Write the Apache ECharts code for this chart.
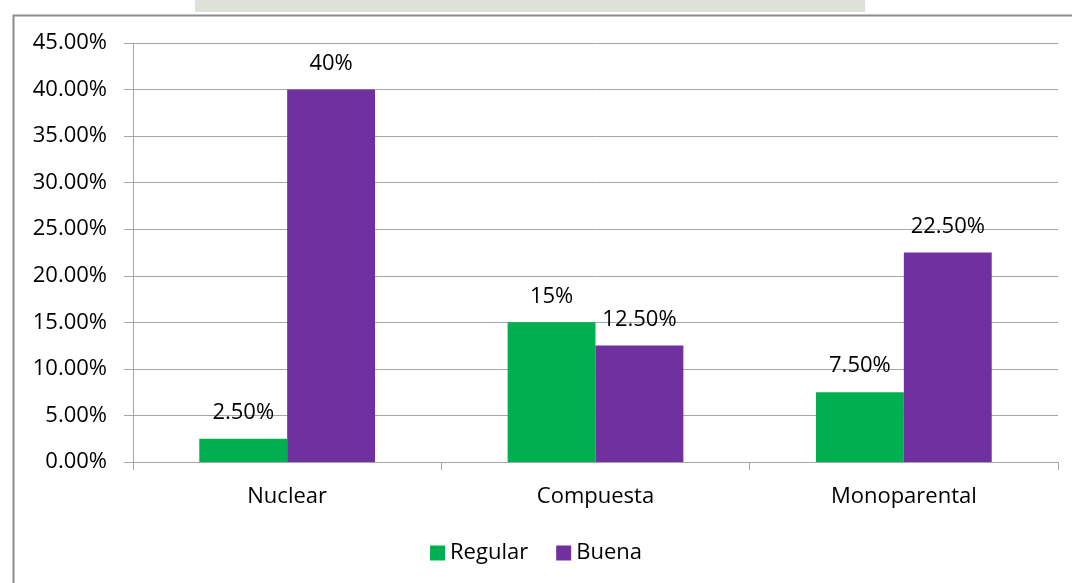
<!DOCTYPE html>
<html>
<head>
<meta charset="utf-8">
<script src="https://cdn.jsdelivr.net/npm/echarts@6/dist/echarts.min.js"></script>
<style>
html,body{margin:0;padding:0;background:#fff;}
#c{width:1072px;height:583px;}
</style>
</head>
<body>
<div id="c"></div>
<script>
const categories = ['Nuclear', 'Compuesta', 'Monoparental'];
const seriesNames = ['Regular', 'Buena'];
const regular = [2.5, 15, 7.5];
const buena = [40, 12.5, 22.5];
const regularLabels = ['2.50%', '15%', '7.50%'];
const buenaLabels = ['40%', '12.50%', '22.50%'];
const colors = ['#00b050', '#7030a0'];

const FONT = '"Open Sans", "Noto Sans", sans-serif';
const FS = 22;

const chart = echarts.init(document.getElementById('c'));

function labelCfg(arr) {
  return {
    show: true,
    position: 'top',
    distance: 15,
    color: '#000',
    fontFamily: FONT,
    fontSize: FS,
    formatter: p => arr[p.dataIndex]
  };
}

chart.setOption({
  animation: false,
  backgroundColor: '#fff',
  graphic: [
    { type: 'rect', left: 195, top: 0, shape: { width: 670, height: 12 }, style: { fill: '#dce1da' }, z: -10 },
    { type: 'rect', left: 11, top: 13, shape: { width: 1100, height: 620 }, style: { fill: 'none', stroke: '#8c8c8c', lineWidth: 2 }, z: -5 }
  ],
  textStyle: { fontFamily: FONT },
  legend: {
    bottom: 14,
    left: 'center',
    icon: 'rect',
    itemWidth: 15,
    itemHeight: 15,
    itemGap: 28,
    textStyle: { color: '#000', fontFamily: FONT, fontSize: FS },
    data: seriesNames
  },
  grid: { left: 133, right: 14, top: 43, bottom: 121, containLabel: false },
  xAxis: {
    type: 'category',
    data: categories,
    axisLine: { show: true, lineStyle: { color: '#a6a6a6', width: 1 } },
    axisTick: { show: true, length: 8, lineStyle: { color: '#a6a6a6' } },
    axisLabel: { color: '#000', fontFamily: FONT, fontSize: FS, margin: 24 },
    splitLine: { show: false }
  },
  yAxis: {
    type: 'value',
    min: 0,
    max: 45,
    interval: 5,
    axisLine: { show: true, lineStyle: { color: '#a6a6a6', width: 1 } },
    axisTick: { show: true, length: 9, lineStyle: { color: '#a6a6a6' } },
    axisLabel: { color: '#000', fontFamily: FONT, fontSize: FS, margin: 26, formatter: v => v.toFixed(2) + '%' },
    splitLine: { show: true, lineStyle: { color: '#a6a6a6', width: 1 } }
  },
  series: [
    { name: seriesNames[0], type: 'bar', data: regular, itemStyle: { color: colors[0] }, barGap: '0%', barCategoryGap: '43%', label: labelCfg(regularLabels) },
    { name: seriesNames[1], type: 'bar', data: buena, itemStyle: { color: colors[1] }, barGap: '0%', barCategoryGap: '43%', label: labelCfg(buenaLabels) }
  ]
});
</script>
</body>
</html>
